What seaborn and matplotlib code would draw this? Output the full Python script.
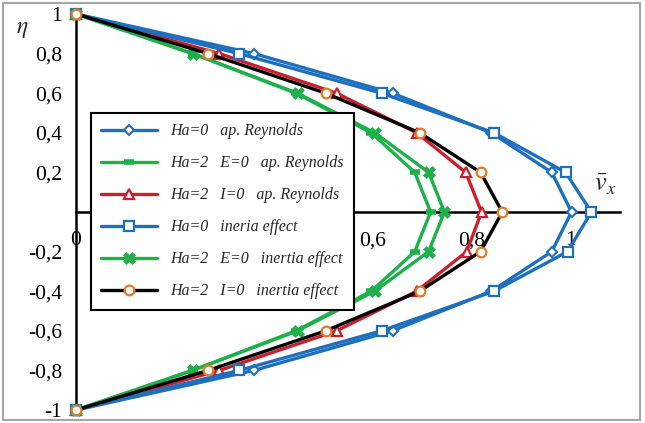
import matplotlib
matplotlib.use("Agg")
import matplotlib.pyplot as plt
from matplotlib.patches import Rectangle
from matplotlib.ticker import MultipleLocator, FuncFormatter
import seaborn as sns

sns.set_style("white")
plt.rcParams["font.family"] = ["Liberation Serif", "DejaVu Serif"]
plt.rcParams["mathtext.fontset"] = "stix"

# eta positions of the markers (top to bottom)
eta = [1, 0.8, 0.6, 0.4, 0.2, 0, -0.2, -0.4, -0.6, -0.8, -1]

# velocity
ha0_reynolds = [0, 0.36, 0.64, 0.84, 0.962, 1.002, 0.962, 0.84, 0.64, 0.36, 0]
ha2_e0_reynolds = [0, 0.236, 0.445, 0.597, 0.685, 0.717, 0.685, 0.597, 0.445, 0.236, 0]
ha2_i0_reynolds = [0, 0.29, 0.527, 0.689, 0.788, 0.82, 0.79, 0.689, 0.527, 0.29, 0]
ha0_inertia = [0, 0.33, 0.618, 0.845, 0.99, 1.042, 0.994, 0.845, 0.618, 0.33, 0]
ha2_e0_inertia = [0, 0.236, 0.448, 0.604, 0.713, 0.745, 0.713, 0.604, 0.448, 0.236, 0]
ha2_i0_inertia = [0, 0.267, 0.505, 0.695, 0.818, 0.862, 0.818, 0.695, 0.505, 0.267, 0]

labels = [
    "Ha=0   ap. Reynolds",
    "Ha=2   E=0   ap. Reynolds",
    "Ha=2   I=0   ap. Reynolds",
    "Ha=0   ineria effect",
    "Ha=2   E=0   inertia effect",
    "Ha=2   I=0   inertia effect",
]
series = [ha0_reynolds, ha2_e0_reynolds, ha2_i0_reynolds,
          ha0_inertia, ha2_e0_inertia, ha2_i0_inertia]

x_ticks = [0, 0.2, 0.4, 0.6, 0.8, 1.0]
y_ticks = [-1, -0.8, -0.6, -0.4, -0.2, 0, 0.2, 0.4, 0.6, 0.8, 1]

blue = "#1f6fbf"
green = "#1db04b"
red = "#c8202e"
orange = "#e07b28"
# line colour, marker, marker size, face, edge, edge width
styles = [
    (blue, "D", 5, "white", blue, 1.5),
    (green, "_", 7, green, green, 4),
    (red, "^", 7, "white", red, 1.6),
    (blue, "s", 7, "white", blue, 1.6),
    (green, "X", 8, green, green, 0.5),
    ("black", "o", 7, "white", orange, 1.6),
]

fig = plt.figure(figsize=(6.45, 4.23), dpi=100)
ax = fig.add_axes([76 / 645, 1 - 410 / 423, (620 - 76) / 645, (410 - 14) / 423])

for vals, lab, st in zip(series, labels, styles):
    col, mk, ms, mfc, mec, mew = st
    sns.lineplot(x=vals, y=eta, orient="y", estimator=None, color=col,
                 lw=2.4, marker=mk, markersize=ms, markerfacecolor=mfc,
                 markeredgecolor=mec, markeredgewidth=mew, label=lab,
                 clip_on=False, ax=ax)

ax.set_xlim(0, 1.1)
ax.set_ylim(-1, 1)
for s in ["top", "right"]:
    ax.spines[s].set_visible(False)
ax.spines["left"].set_position(("data", 0))
ax.spines["bottom"].set_position(("data", 0))
for s in ["left", "bottom"]:
    ax.spines[s].set_linewidth(1.8)
    ax.spines[s].set_color("black")
    ax.spines[s].set_zorder(1)


def comma(v, pos):
    v = round(v, 2)
    return f"{v:g}".replace(".", ",")


def comma_no_zero(v, pos):
    if abs(v) < 1e-9:
        return ""
    return comma(v, pos)


ax.set_xticks(x_ticks)
ax.set_yticks(y_ticks)
ax.xaxis.set_minor_locator(MultipleLocator(0.04))
ax.yaxis.set_minor_locator(MultipleLocator(0.1))
ax.xaxis.set_major_formatter(FuncFormatter(comma))
ax.yaxis.set_major_formatter(FuncFormatter(comma_no_zero))
ax.tick_params(axis="both", which="major", direction="inout", length=8,
               width=1.5, labelsize=15.5, colors="black")
ax.tick_params(axis="y", which="major", pad=6)
ax.tick_params(axis="x", which="major", pad=10)
ax.tick_params(axis="both", which="minor", direction="in", length=4, width=1.5)
ax.set_xlabel("")
ax.set_ylabel("")

leg = ax.legend(loc="upper left", bbox_to_anchor=(91 / 645, 1 - 113 / 423),
                bbox_transform=fig.transFigure, borderaxespad=0,
                frameon=True, fancybox=False,
                framealpha=1, edgecolor="black", handlelength=3.5,
                labelspacing=1.0, borderpad=0.65, numpoints=1,
                prop=dict(family="Liberation Serif", style="italic", size=11.5))
leg.get_frame().set_linewidth(1.5)
leg.set_zorder(10)

fig.text(22 / 645, 1 - 30 / 423, r"$\eta$", fontsize=17, ha="center", va="center")
fig.text(605 / 645, 1 - 185 / 423, r"$\bar{v}_x$", fontsize=19, ha="center", va="center")

fig.patches.append(Rectangle((3 / 645, 3 / 423), 637 / 645, 417 / 423,
                             transform=fig.transFigure, fill=False,
                             edgecolor="#a6a6a6", lw=1.5))

fig.savefig("out.png", dpi=100)
